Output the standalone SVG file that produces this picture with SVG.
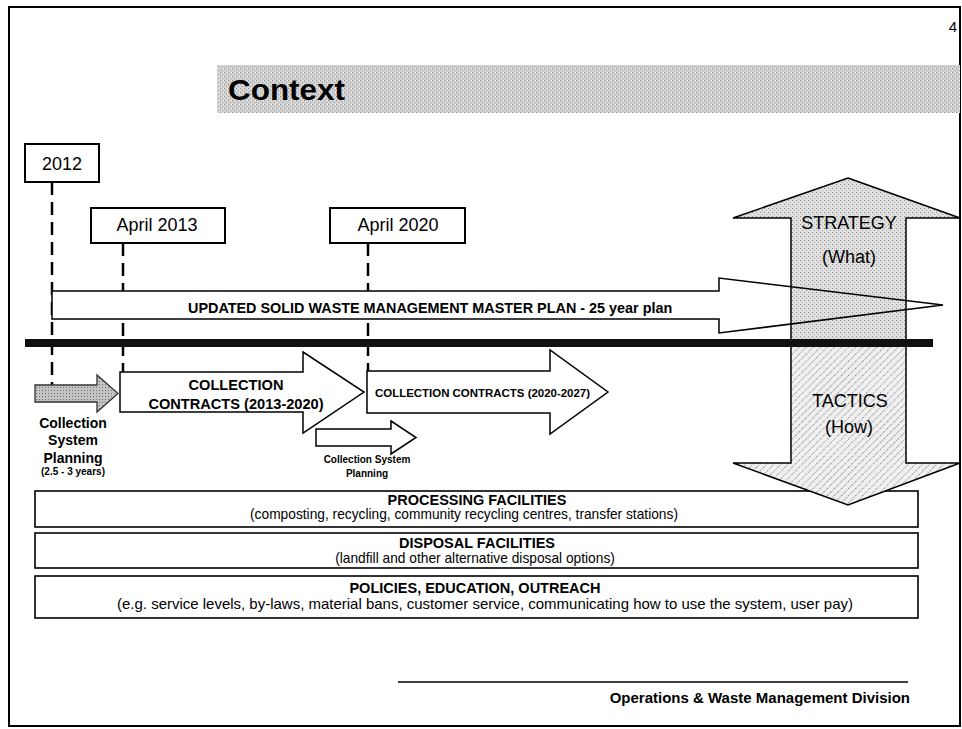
<svg xmlns="http://www.w3.org/2000/svg" width="962" height="729" viewBox="0 0 962 729">
<defs>
<style>
text{font-family:"Liberation Sans",Arial,Helvetica,sans-serif;fill:#000}
.b{font-weight:bold}
.box{fill:#fff;stroke:#000;stroke-width:1.6}
.dbox{fill:#fff;stroke:#000;stroke-width:2}
.dash{stroke:#000;stroke-width:2.5;stroke-dasharray:13 7;fill:none}
.ol{fill:none;stroke:#000;stroke-width:1.5;stroke-linejoin:miter}
.wa{fill:#fff;stroke:#000;stroke-width:1.5;stroke-linejoin:miter}
</style>
<pattern id="title" width="4" height="4" patternUnits="userSpaceOnUse">
<rect width="4" height="4" fill="#d2d2d2"/>
<rect x="0" y="0" width="1" height="1" fill="#8e8e8e"/>
<rect x="2" y="2" width="1" height="1" fill="#a6a6a6"/>
<rect x="3" y="0" width="1" height="1" fill="#f0f0f0"/>
</pattern>
<pattern id="stip" width="4" height="4" patternUnits="userSpaceOnUse">
<rect width="4" height="4" fill="#e0e0e0"/>
<rect x="0" y="0" width="1" height="1" fill="#8c8c8c"/>
<rect x="2" y="2" width="1" height="1" fill="#a8a8a8"/>
</pattern>
<pattern id="hatch" width="5" height="5" patternUnits="userSpaceOnUse" patternTransform="rotate(45)">
<rect width="5" height="5" fill="#f0f0f0"/>
<rect x="0" y="0" width="1" height="1" fill="#8a8a8a"/>
<rect x="0" y="2" width="1" height="1" fill="#9a9a9a"/>
<rect x="0" y="4" width="1" height="1" fill="#b0b0b0"/>
</pattern>
<pattern id="dark" width="3" height="3" patternUnits="userSpaceOnUse">
<rect width="3" height="3" fill="#c4c4c4"/>
<rect width="1" height="1" fill="#6e6e6e"/>
</pattern>
<clipPath id="lower"><rect x="700" y="343" width="262" height="200"/></clipPath>
</defs>

<rect id="page" x="9" y="7" width="951" height="719" fill="#fff" stroke="#000" stroke-width="2"/>

<g id="pagenum"><text x="953" y="32" font-size="15" text-anchor="middle">4</text></g>

<g id="title-bar">
<rect x="217" y="65" width="743" height="48" fill="url(#title)"/>
<text x="228" y="100" class="b" font-size="30" textLength="117" lengthAdjust="spacingAndGlyphs">Context</text>
</g>

<g id="processing">
<rect class="box" x="35" y="491" width="883" height="36"/>
<text x="477" y="505" class="b" font-size="14.5" text-anchor="middle">PROCESSING FACILITIES</text>
<text x="464" y="519" font-size="13.75" text-anchor="middle">(composting, recycling, community recycling centres, transfer stations)</text>
</g>
<g id="disposal">
<rect class="box" x="35" y="533" width="883" height="35"/>
<text x="477" y="548" class="b" font-size="14.5" text-anchor="middle">DISPOSAL FACILITIES</text>
<text x="475" y="563" font-size="13.75" text-anchor="middle">(landfill and other alternative disposal options)</text>
</g>
<g id="policies">
<rect class="box" x="35" y="576" width="883" height="42"/>
<text x="475" y="593" class="b" font-size="14.5" text-anchor="middle">POLICIES, EDUCATION, OUTREACH</text>
<text x="485" y="609" font-size="13.75" text-anchor="middle" textLength="736" lengthAdjust="spacingAndGlyphs">(e.g. service levels, by-laws, material bans, customer service, communicating how to use the system, user pay)</text>
</g>

<g id="connectors">
<line class="dash" x1="52" y1="182" x2="52" y2="385"/>
<line class="dash" x1="123" y1="243" x2="123" y2="372"/>
<line class="dash" x1="368" y1="243" x2="368" y2="371"/>
</g>

<g id="date-2012">
<rect class="dbox" x="25" y="144" width="74" height="38"/>
<text x="62" y="170" font-size="18" text-anchor="middle">2012</text>
</g>
<g id="date-2013">
<rect class="dbox" x="91" y="208" width="134" height="35"/>
<text x="157" y="231" font-size="18" text-anchor="middle">April 2013</text>
</g>
<g id="date-2020">
<rect class="dbox" x="330" y="208" width="135" height="35"/>
<text x="398" y="231" font-size="18" text-anchor="middle">April 2020</text>
</g>

<g id="master-plan-fill">
<path d="M52,291 L719,291 L719,278 L943,305 L719,333 L719,319 L52,319 Z" fill="#fff"/>
</g>

<g id="strategy-tactics">
<path d="M848,178 L960,218 L906,218 L906,463 L960,463 L848,505 L733,463 L791,463 L791,218 L733,218 Z" fill="url(#stip)"/>
<path d="M848,178 L960,218 L906,218 L906,463 L960,463 L848,505 L733,463 L791,463 L791,218 L733,218 Z" fill="url(#hatch)" clip-path="url(#lower)"/>
<path class="ol" d="M848,178 L960,218 L906,218 L906,463 L960,463 L848,505 L733,463 L791,463 L791,218 L733,218 Z"/>
<text x="849" y="229" font-size="18" text-anchor="middle">STRATEGY</text>
<text x="849" y="263" font-size="18" text-anchor="middle">(What)</text>
<text x="850" y="407" font-size="18" text-anchor="middle">TACTICS</text>
<text x="849" y="433" font-size="18" text-anchor="middle">(How)</text>
</g>

<g id="master-plan">
<path class="ol" d="M52,291 L719,291 L719,278 L943,305 L719,333 L719,319 L52,319 Z"/>
<text x="188" y="313" class="b" font-size="14.4">UPDATED SOLID WASTE MANAGEMENT MASTER PLAN - 25 year plan</text>
</g>

<g id="divider">
<rect x="25" y="339" width="908" height="8" fill="#111"/>
</g>

<g id="planning-2012">
<path d="M35,385 L97,385 L97,375 L118,393.5 L97,412 L97,402 L35,402 Z" fill="url(#dark)" stroke="#333" stroke-width="1.3"/>
<text x="73" y="428" class="b" font-size="14" text-anchor="middle">Collection</text>
<text x="73" y="445" class="b" font-size="14" text-anchor="middle">System</text>
<text x="73" y="463" class="b" font-size="14" text-anchor="middle">Planning</text>
<text x="73" y="475" class="b" font-size="10" text-anchor="middle">(2.5 - 3 years)</text>
</g>

<g id="contracts-2013">
<path class="wa" d="M120,372 L303,372 L303,352 L364,392 L303,433 L303,412 L120,412 Z"/>
<text x="236" y="390" class="b" font-size="14.6" text-anchor="middle">COLLECTION</text>
<text x="236" y="409" class="b" font-size="14.6" text-anchor="middle">CONTRACTS (2013-2020)</text>
</g>

<g id="contracts-2020">
<path class="wa" d="M367,371 L550,371 L550,350 L608,392 L550,434 L550,413 L367,413 Z"/>
<text x="375" y="397" class="b" font-size="11" textLength="215" lengthAdjust="spacingAndGlyphs">COLLECTION CONTRACTS (2020-2027)</text>
</g>

<g id="planning-2020">
<path class="wa" d="M316,429 L391,429 L391,421 L416,437.5 L391,454 L391,446 L316,446 Z"/>
<text x="367" y="463" class="b" font-size="10" text-anchor="middle">Collection System</text>
<text x="367" y="477" class="b" font-size="10" text-anchor="middle">Planning</text>
</g>

<g id="footer">
<line x1="398" y1="682" x2="908" y2="682" stroke="#000" stroke-width="1.5"/>
<text x="910" y="703" class="b" font-size="15" text-anchor="end">Operations &amp; Waste Management Division</text>
</g>
</svg>
